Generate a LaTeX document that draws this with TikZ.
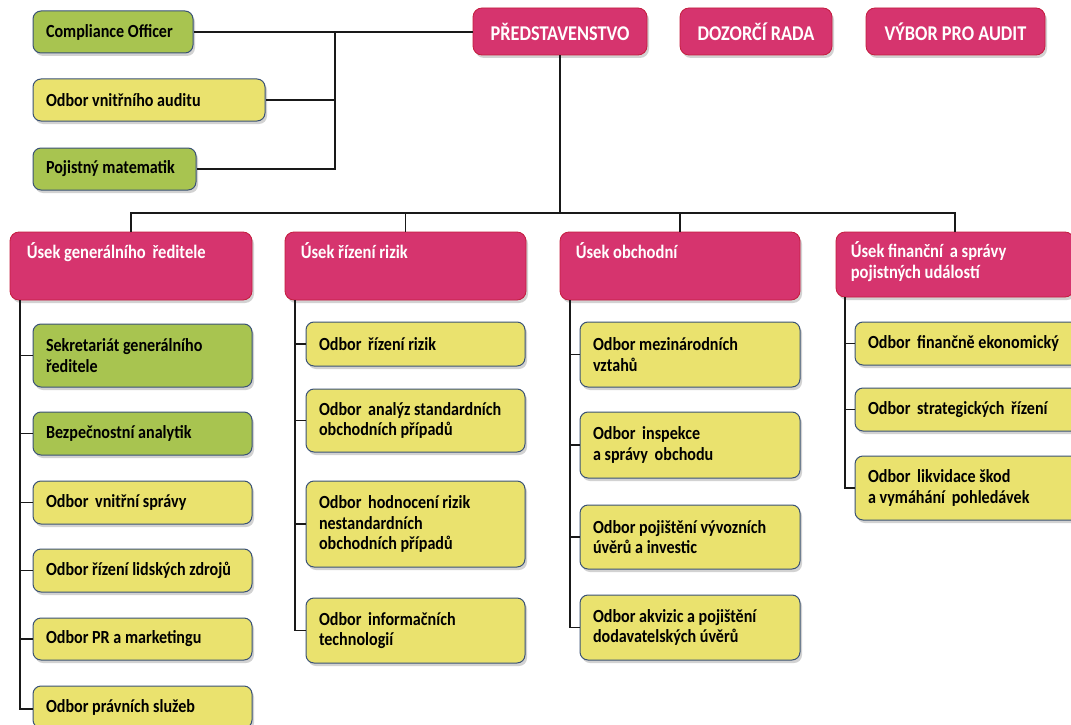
\documentclass[tikz,border=0pt]{standalone}
\usepackage{fontspec}
\setmainfont{Carlito}[FakeStretch=0.87]
\usetikzlibrary{shadows,calc}
\definecolor{hdrfill}{RGB}{214,52,110}
\definecolor{hdrline}{RGB}{196,28,62}
\definecolor{grnfill}{RGB}{168,196,80}
\definecolor{ylwfill}{RGB}{234,226,110}
\definecolor{boxline}{RGB}{58,82,118}
\definecolor{conn}{RGB}{25,25,25}
\newcommand\gap{\hspace{3pt}}
\newcommand\orgbox[7]{%
  \pgfmathsetmacro\mybw{#5-#3}\pgfmathsetmacro\mybh{#6-#4}\pgfmathsetmacro\mytw{#5-#3-26}%
  \node[#1, minimum width=\mybw pt, minimum height=\mybh pt] (#2) at ({(#3+#5)/2},{(#4+#6)/2}) {\parbox{\mytw pt}{\raggedright #7}};}
\begin{document}
\begin{tikzpicture}[x=1pt,y=-1pt,
  basebox/.style={rounded corners=8pt, inner xsep=13pt, inner ysep=0pt,
    drop shadow={opacity=0.35, shadow xshift=2pt, shadow yshift=-3pt},
    font=\fontsize{18.5}{20.5}\selectfont\bfseries},
  grnbox/.style={basebox, draw=boxline, line width=1pt, fill=grnfill},
  ylwbox/.style={basebox, draw=boxline, line width=1pt, fill=ylwfill},
  hdrbox/.style={rounded corners=9pt, draw=hdrline, line width=0.8pt, fill=hdrfill,
    drop shadow={opacity=0.35, shadow xshift=2pt, shadow yshift=-3pt},
    inner sep=0pt, text=white, font=\fontsize{21}{24}\selectfont\bfseries},
  hdrtext/.style={anchor=north west, inner sep=0pt, text=white, align=left,
    font=\fontsize{19}{21}\selectfont\bfseries},
  link/.style={draw=conn, line width=1.2pt}]
\useasboundingbox (0,0) rectangle (1071,725);
\clip (0,0) rectangle (1071,725);
\fill[white] (0,0) rectangle (1071,725);

% top row
\node[hdrbox, minimum width=174pt, minimum height=47pt] (ps) at (560,31.5) {PŘEDSTAVENSTVO};
\node[hdrbox, minimum width=152pt, minimum height=47pt] (dr) at (756,31.5) {DOZORČÍ RADA};
\node[hdrbox, minimum width=179pt, minimum height=47pt] (va) at (955.5,31.5) {VÝBOR PRO AUDIT};

\orgbox{grnbox}{co}{33}{11}{193}{53}{Compliance Officer}
\orgbox{ylwbox}{au}{33}{79}{265}{121}{Odbor vnitřního auditu}
\orgbox{grnbox}{pm}{33}{148}{196}{190}{Pojistný matematik}

\coordinate (v) at (335,32);
\draw[link] (co.east) -- (co.east -| ps.west);
\draw[link] (v) |- (pm.east);
\draw[link] (au.east) -- (au.east -| v);

% column headers
\node[hdrbox, minimum width=242pt, minimum height=68pt] (h1) at (131,266) {};
\node[hdrbox, minimum width=241pt, minimum height=68pt] (h2) at (405.5,266) {};
\node[hdrbox, minimum width=240pt, minimum height=68pt] (h3) at (680,266) {};
\node[hdrbox, minimum width=238pt, minimum height=65pt] (h4) at (955,264.5) {};
\node[hdrtext] (h1t) at ([xshift=17pt,yshift=-11pt]h1.north west) {Úsek generálního\gap{} ředitele};
\node[hdrtext] (h2t) at ([xshift=16pt,yshift=-11pt]h2.north west) {Úsek řízení rizik};
\node[hdrtext] (h3t) at ([xshift=16pt,yshift=-11pt]h3.north west) {Úsek obchodní};
\node[hdrtext] (h4t) at ([xshift=15pt,yshift=-10pt]h4.north west) {Úsek finanční\gap{} a správy\\pojistných událostí};

\coordinate (bus) at (560,213);
\draw[link] (ps.south) -- (ps.south |- bus);
\draw[link] (h1.north) -- (h1.north |- bus) -- (h4.north |- bus) -- (h4.north);
\draw[link] (h2.north) -- (h2.north |- bus);
\draw[link] (h3.north) -- (h3.north |- bus);

% column 1
\orgbox{grnbox}{a1}{33}{324}{252}{387}{Sekretariát generálního\\ředitele}
\orgbox{grnbox}{a2}{33}{412}{252}{455}{Bezpečnostní analytik}
\orgbox{ylwbox}{a3}{33}{481}{252}{524}{Odbor\gap{} vnitřní správy}
\orgbox{ylwbox}{a4}{33}{549}{252}{592}{Odbor řízení lidských zdrojů}
\orgbox{ylwbox}{a5}{33}{618}{252}{660}{Odbor PR a marketingu}
\orgbox{ylwbox}{a6}{33}{686}{252}{728}{Odbor právních služeb}
\coordinate (s1) at (20,300);
\draw[link] (s1) |- ([yshift=-2pt]a6.west);
\foreach \b in {a1,a2,a3,a4,a5} \draw[link] (\b.west) -- (\b.west -| s1);

% column 2
\orgbox{ylwbox}{b1}{306}{322}{525}{366}{Odbor\gap{} řízení rizik}
\orgbox{ylwbox}{b2}{306}{389}{525}{452}{Odbor\gap{} analýz standardních\\obchodních případů}
\orgbox{ylwbox}{b3}{306}{481}{525}{567}{Odbor\gap{} hodnocení rizik\\nestandardních\\obchodních případů}
\orgbox{ylwbox}{b4}{306}{598}{525}{663}{Odbor\gap{} informačních\\technologií}
\coordinate (s2) at (295,300);
\draw[link] (s2) |- (b4.west);
\foreach \b in {b1,b2,b3} \draw[link] (\b.west) -- (\b.west -| s2);

% column 3
\orgbox{ylwbox}{c1}{580}{322}{800}{387}{Odbor mezinárodních\\vztahů}
\orgbox{ylwbox}{c2}{580}{412}{800}{478}{Odbor\gap{} inspekce\\a správy\gap{} obchodu}
\orgbox{ylwbox}{c3}{580}{505}{800}{569}{Odbor pojištění vývozních\\úvěrů a investic}
\orgbox{ylwbox}{c4}{580}{595}{800}{660}{Odbor akvizic a pojištění\\dodavatelských úvěrů}
\coordinate (s3) at (570,300);
\draw[link] (s3) |- (c4.west);
\foreach \b in {c1,c2,c3} \draw[link] (\b.west) -- (\b.west -| s3);

% column 4
\orgbox{ylwbox}{d1}{855}{322}{1085}{365}{Odbor\gap{} finančně ekonomický}
\orgbox{ylwbox}{d2}{855}{388}{1085}{431}{Odbor\gap{} strategických\gap{} řízení}
\orgbox{ylwbox}{d3}{855}{456}{1085}{520}{Odbor\gap{} likvidace škod\\a vymáhání\gap{} pohledávek}
\coordinate (s4) at (845,297);
\draw[link] (s4) |- (d3.west);
\foreach \b in {d1,d2} \draw[link] (\b.west) -- (\b.west -| s4);
\end{tikzpicture}
\end{document}
